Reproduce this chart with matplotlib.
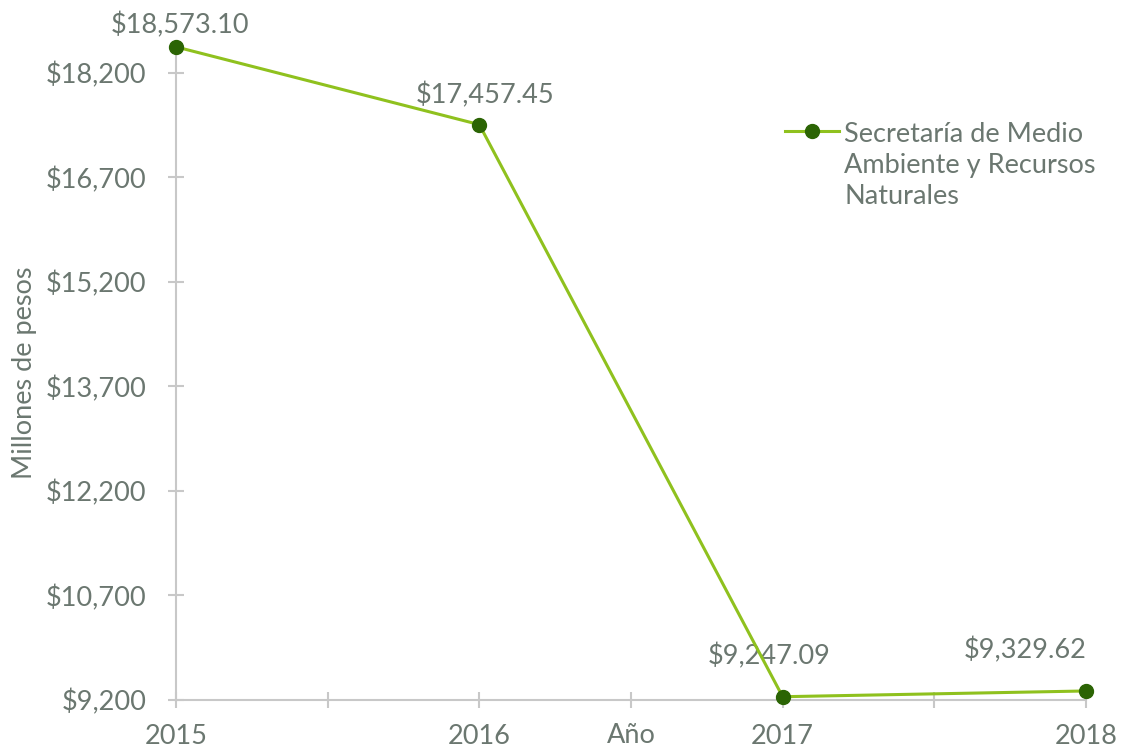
import matplotlib.pyplot as plt
from matplotlib.ticker import FixedLocator, FuncFormatter

plt.rcParams['font.family'] = ['Lato', 'DejaVu Sans']

# Datos
anios = [2015, 2016, 2017, 2018]
montos = [18573.10, 17457.45, 9247.09, 9329.62]
etiquetas = ['$18,573.10', '$17,457.45', '$9,247.09', '$9,329.62']
ticks_y = [9200, 10700, 12200, 13700, 15200, 16700, 18200]
serie = 'Secretaría de Medio\nAmbiente y Recursos\nNaturales'

gris_texto = '#6B7770'
gris_eje = '#C8C8C8'
verde_linea = '#8FC11E'
verde_punto = '#2B6404'
fs = 19.5

fig = plt.figure(figsize=(11.26, 7.51), dpi=100)
ax = fig.add_axes([176/1126, 1 - 700/751, (1086-176)/1126, (700-45)/751])

ax.plot(anios, montos, color=verde_linea, lw=2.2, marker='o', markersize=10,
        markerfacecolor=verde_punto, markeredgecolor=verde_punto, label=serie,
        clip_on=False, zorder=5)

# etiquetas de datos
offsets = [(3, 6), (4, 12), (-10, 20), (-44, 20)]
for x, y, t, off in zip(anios, montos, etiquetas, offsets):
    ax.annotate(t, (x, y), xytext=off, textcoords='offset points',
                ha='center', va='bottom', fontsize=fs, color=gris_texto)

ax.set_xlim(2015, 2018)
ax.set_ylim(9200, 18600)
ax.xaxis.set_major_locator(FixedLocator(anios))
ax.xaxis.set_minor_locator(FixedLocator([2015.5, 2016.5, 2017.5]))
ax.xaxis.set_major_formatter(FuncFormatter(lambda v, p: f'{int(v)}'))
ax.yaxis.set_major_locator(FixedLocator(ticks_y))
ax.yaxis.set_major_formatter(FuncFormatter(lambda v, p: f'${v:,.0f}'))

for s in ['top', 'right']:
    ax.spines[s].set_visible(False)
for s in ['left', 'bottom']:
    ax.spines[s].set_color(gris_eje)
    ax.spines[s].set_linewidth(1.5)

ax.tick_params(axis='both', which='both', direction='inout', length=11,
               width=1.5, color=gris_eje, labelcolor=gris_texto, labelsize=fs)
ax.tick_params(axis='y', pad=16)
ax.tick_params(axis='x', pad=12)

ax.set_xlabel('Año', fontsize=fs, color=gris_texto, labelpad=-19)
ax.set_ylabel('Millones de pesos', fontsize=fs, color=gris_texto, labelpad=6)

leg = ax.legend(loc='upper left', bbox_to_anchor=(0.642, 0.92), frameon=False,
                fontsize=fs, labelcolor=gris_texto, handlelength=2.0,
                handletextpad=0.2)
for t in leg.get_texts():
    t.set_linespacing(1.3)
# marcador alineado con la primera linea del texto
for col in leg._legend_handle_box.get_children():
    for hp in col.get_children():
        hp.align = 'top'

fig.savefig('out.png', dpi=100)
